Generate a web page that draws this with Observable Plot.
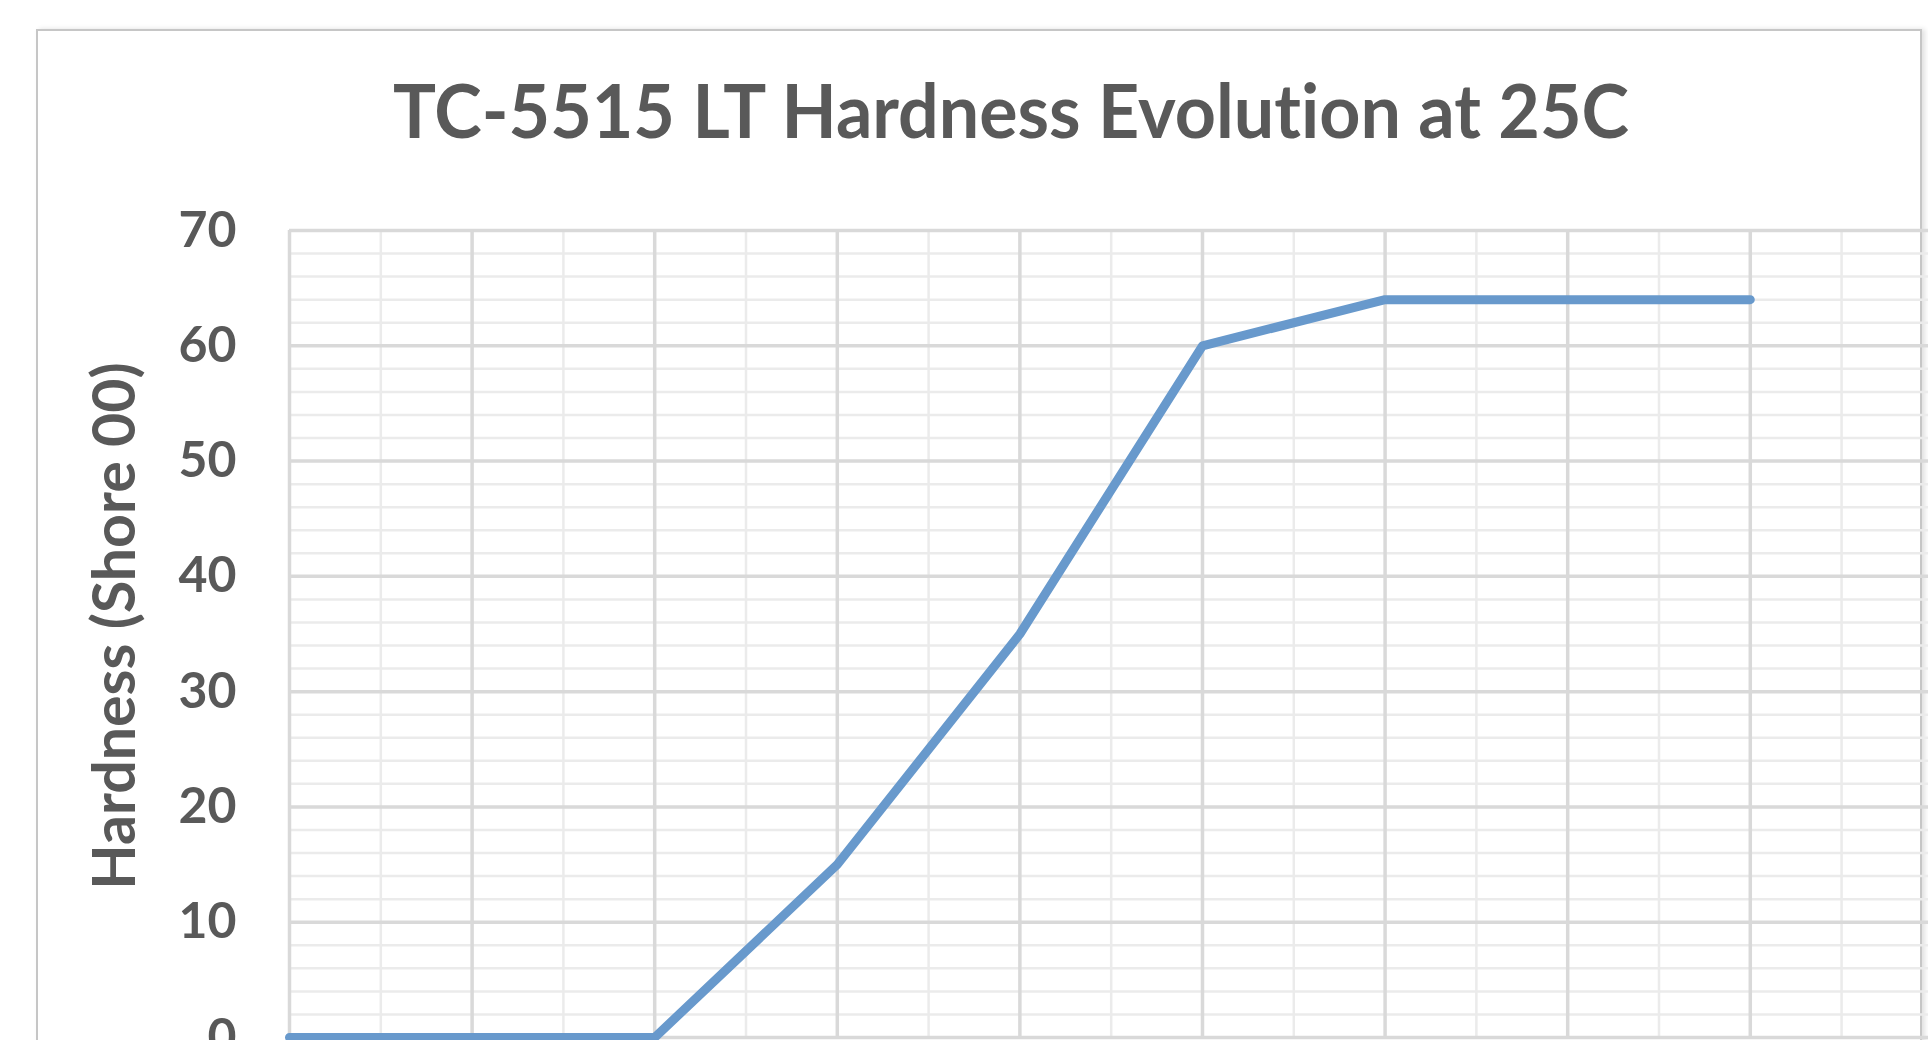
<!DOCTYPE html>
<html>
<head>
<meta charset="utf-8">
<script src="https://cdn.jsdelivr.net/npm/d3@7"></script>
<script src="https://cdn.jsdelivr.net/npm/@observablehq/plot@0.6"></script>
<style>
  html, body { margin: 0; padding: 0; background: #fff; width: 1928px; height: 1040px; overflow: hidden; }
  #frame { position: absolute; left: 36px; top: 29px; width: 1886px; height: 1100px; border: 2px solid #c6c6c6; box-sizing: border-box; box-shadow: 3px 0 5px rgba(0,0,0,0.12); }
  #title { position: absolute; top: 73px; left: 1011px; font-family: Lato, "Open Sans", sans-serif; font-weight: 700; font-size: 74px; line-height: 1; color: #595959; white-space: nowrap; font-variant-ligatures: none; }
  #chart { position: absolute; left: 0; top: 160px; }
  #chart svg text { font-variant-ligatures: none; }
</style>
</head>
<body>
<div id="frame"></div>
<div id="title"></div>
<div id="chart"></div>
<script>
// ---- data ----
const chartTitle = "TC-5515 LT Hardness Evolution at 25C";
const yLabel = "Hardness (Shore 00)";
const time = [0, 1, 2, 3, 4, 5, 6, 7, 8];
const hardness = [0, 0, 0, 15, 35, 60, 64, 64, 64];
const yMajorTicks = [0, 10, 20, 30, 40, 50, 60, 70];
const yMinorTicks = d3.range(2, 70, 2).filter(v => v % 10 !== 0);
const xMajorTicks = [0, 1, 2, 3, 4, 5, 6, 7, 8];
const xMinorTicks = [0.5, 1.5, 2.5, 3.5, 4.5, 5.5, 6.5, 7.5, 8.5];

const data = time.map((t, i) => ({time: t, hardness: hardness[i]}));

const plot = Plot.plot({
  width: 1928,
  height: 880,
  marginLeft: 289,
  marginTop: 70,
  marginBottom: 3,
  marginRight: 0,
  style: {fontFamily: "Lato, 'Open Sans', sans-serif", fontSize: "50px", fontWeight: 700, color: "#595959", background: "transparent", overflow: "visible"},
  x: {domain: [0, 8.976], axis: null},
  y: {domain: [0, 70]},
  marks: [
    Plot.ruleY(yMinorTicks, {stroke: "#ebebeb", strokeWidth: 2.5}),
    Plot.ruleX(xMinorTicks, {stroke: "#ebebeb", strokeWidth: 2.5}),
    Plot.ruleY(yMajorTicks, {stroke: "#d9d9d9", strokeWidth: 3.5}),
    Plot.ruleX(xMajorTicks, {stroke: "#d9d9d9", strokeWidth: 3.5}),
    Plot.axisY({ticks: yMajorTicks, tickSize: 0, tickPadding: 53, label: yLabel, labelAnchor: "center", labelArrow: "none", labelOffset: 196, fontWeight: 700}),
    Plot.line(data, {x: "time", y: "hardness", stroke: "#6899cc", strokeWidth: 9, strokeLinejoin: "round", strokeLinecap: "round"})
  ]
});
document.getElementById("chart").append(plot);
const lab = d3.select(plot).select('g[aria-label="y-axis label"]');
lab.attr("font-size", 59);
lab.attr("transform", ((lab.attr("transform") || "") + " translate(0,-8)").trim());

const t = document.getElementById("title");
t.textContent = chartTitle;
const w = t.getBoundingClientRect().width;
t.style.transform = `translateX(-50%) scaleX(${1236 / w})`;
</script>
</body>
</html>
